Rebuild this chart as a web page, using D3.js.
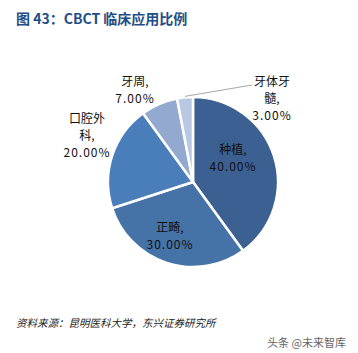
<!DOCTYPE html>
<html lang="zh">
<head>
<meta charset="UTF-8" />
<title>CBCT 临床应用比例</title>
<script src="https://d3js.org/d3.v7.min.js"></script>
<style>
    body { margin: 0; background: #fff; }
    svg { display: block; font-family: "Noto Sans CJK SC", "Noto Sans", sans-serif; }
</style>
</head>
<body>
<div id="chart"></div>
<script>
    // 数据
    const categories = ["种植", "正畸", "口腔外科", "牙周", "牙体牙髓"];
    const values = [40, 30, 20, 7, 3];
    const colors = ["#3C6091", "#4572A7", "#4A7EBB", "#93A9CF", "#B9C8E2"];
    // 标签分行
    const labelLines = [["种植,", "40.00%"], ["正畸,", "30.00%"], ["口腔外", "科,", "20.00%"], ["牙周,", "7.00%"], ["牙体牙", "髓,", "3.00%"]];

    const width = 358, height = 353;
    const cx = 193, cy = 182, radius = 85;
    // 标签相对圆心位置
    const labelOffsets = [[40, -24], [-23, 54], [-106, -46], [-58, -92], [79, -83]];

    const svg = d3.select("#chart").append("svg")
        .attr("width", width)
        .attr("height", height);

    svg.append("text")
        .attr("x", 16).attr("y", 24)
        .attr("fill", "#1F4E86")
        .attr("font-size", 14)
        .attr("font-weight", "bold")
        .text("图 43：CBCT 临床应用比例");

    const pie = d3.pie().sort(null).value(d => d)(values);
    const arc = d3.arc().innerRadius(0).outerRadius(radius);

    const g = svg.append("g").attr("transform", `translate(${cx},${cy})`);

    g.selectAll("path.slice")
        .data(pie)
        .join("path")
        .attr("class", "slice")
        .attr("d", arc)
        .attr("fill", (d, i) => colors[i])
        .attr("stroke", "#fff")
        .attr("stroke-width", 2.5);

    // 牙体牙髓引导线
    const small = pie[4];
    const mid = (small.startAngle + small.endAngle) / 2;
    g.append("line")
        .attr("x1", Math.sin(mid) * (radius + 1))
        .attr("y1", -Math.cos(mid) * (radius + 1))
        .attr("x2", labelOffsets[4][0] - 20)
        .attr("y2", labelOffsets[4][1] - 14)
        .attr("stroke", "#A6A6A6")
        .attr("stroke-width", 1);

    const labels = g.selectAll("text.lbl")
        .data(labelLines)
        .join("text")
        .attr("class", "lbl")
        .attr("text-anchor", "middle")
        .attr("font-size", 12)
        .attr("fill", "#111")
        .attr("transform", (d, i) => `translate(${labelOffsets[i][0]},${labelOffsets[i][1] - (d.length - 1) * 8.5})`);

    labels.selectAll("tspan")
        .data(d => d)
        .join("tspan")
        .attr("x", 0)
        .attr("dy", (d, i) => i === 0 ? "0.35em" : 17)
        .attr("letter-spacing", d => /\d/.test(d) ? 1 : 0)
        .text(d => d);

    svg.append("text")
        .attr("x", 16).attr("y", 327)
        .attr("font-size", 10.5)
        .attr("font-style", "italic")
        .attr("fill", "#222")
        .text("资料来源：昆明医科大学，东兴证券研究所");

    svg.append("text")
        .attr("x", 346).attr("y", 347)
        .attr("text-anchor", "end")
        .attr("font-size", 11)
        .attr("fill", "#666")
        .text("头条 @未来智库");
</script>
</body>
</html>
